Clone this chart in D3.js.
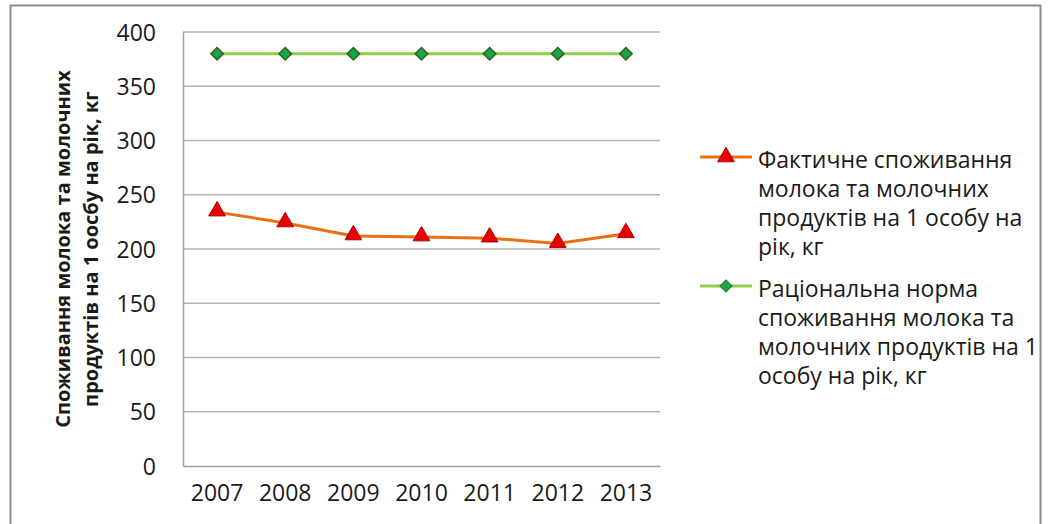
<!DOCTYPE html>
<html>
<head>
<meta charset="utf-8">
<script src="https://cdn.jsdelivr.net/npm/d3@7"></script>
<style>
  body { margin: 0; background: #fff; }
  svg text { font-family: "Open Sans", sans-serif; fill: #1a1a1a; }
</style>
</head>
<body>
<svg id="chart" width="1051" height="524"></svg>
<script>
// data
const years = ['2007', '2008', '2009', '2010', '2011', '2012', '2013']
const actual = [234, 224, 212, 211, 210, 205, 214]
const norm = [380, 380, 380, 380, 380, 380, 380]
const yTicks = [0, 50, 100, 150, 200, 250, 300, 350, 400]
const legendActual = ['Фактичне споживання', 'молока та молочних', 'продуктів на 1 особу на', 'рік, кг']
const legendNorm = ['Раціональна норма', 'споживання молока та', 'молочних продуктів на 1', 'особу на рік, кг']
const yTitle = ['Споживання молока та молочних', 'продуктів на 1 оосбу на рік, кг']

const svg = d3.select('#chart')

// outer frame
svg.append('rect')
  .attr('x', 10.5).attr('y', 5.5)
  .attr('width', 1030).attr('height', 530)
  .attr('fill', 'none').attr('stroke', '#8c8c8c').attr('stroke-width', 2)

const plotL = 183, plotR = 660, plotT = 32, plotB = 466

const x = d3.scaleBand().domain(years).range([plotL, plotR])
const y = d3.scaleLinear().domain([0, 400]).range([plotB, plotT])
const cx = d => x(d) + x.bandwidth() / 2

// gridlines
svg.append('g')
  .selectAll('line')
  .data(yTicks.filter(t => t > 0))
  .join('line')
  .attr('x1', plotL).attr('x2', plotR)
  .attr('y1', d => y(d)).attr('y2', d => y(d))
  .attr('stroke', '#b4b4b4').attr('stroke-width', 1.5)

// axes
const yAxis = svg.append('g')
  .attr('transform', `translate(${plotL},0)`)
  .call(d3.axisLeft(y).tickValues(yTicks).tickSize(0).tickPadding(27))
yAxis.select('.domain').attr('stroke', '#a0a0a0').attr('stroke-width', 1.5)
yAxis.selectAll('text').style('font-size', '23px').attr('dy', '0.35em')

const xAxis = svg.append('g')
  .attr('transform', `translate(0,${plotB})`)
  .call(d3.axisBottom(x).tickSize(0).tickPadding(19))
xAxis.select('.domain').attr('stroke', '#a0a0a0').attr('stroke-width', 1.5)
xAxis.selectAll('text').style('font-size', '23px')

// y title
const title = svg.append('text')
  .attr('transform', 'translate(70,249) rotate(-90)')
  .attr('text-anchor', 'middle')
  .style('font-size', '20px')
  .style('font-weight', 'bold')
title.selectAll('tspan')
  .data(yTitle)
  .join('tspan')
  .attr('x', 0)
  .attr('y', (d, i) => i * 28)
  .text(d => d)

const line = d3.line().x((d, i) => cx(years[i])).y(d => y(d))

// norm series
svg.append('path')
  .datum(norm)
  .attr('d', line)
  .attr('fill', 'none').attr('stroke', '#8fce4a').attr('stroke-width', 3)

const diamond = d3.symbol().type(d3.symbolDiamond2).size(100)
const triangle = d3.symbol().type(d3.symbolTriangle).size(120)

svg.append('g')
  .selectAll('path')
  .data(norm)
  .join('path')
  .attr('d', diamond)
  .attr('transform', (d, i) => `translate(${cx(years[i])},${y(d)})`)
  .attr('fill', '#10a84a').attr('stroke', '#3c5a1e').attr('stroke-width', 1.5)

// actual series
svg.append('path')
  .datum(actual)
  .attr('d', line)
  .attr('fill', 'none').attr('stroke', '#e8700e').attr('stroke-width', 3)

svg.append('g')
  .selectAll('path')
  .data(actual)
  .join('path')
  .attr('d', triangle)
  .attr('transform', (d, i) => `translate(${cx(years[i])},${y(d) - 1})`)
  .attr('fill', '#e80000').attr('stroke', '#b00000').attr('stroke-width', 1)

// legend
const legend = svg.append('g')
const items = [
  { lines: legendActual, color: '#e8700e', sym: triangle, fill: '#e80000', stroke: '#b00000', y0: 160 },
  { lines: legendNorm, color: '#8fce4a', sym: diamond, fill: '#10a84a', stroke: '#3c5a1e', y0: 289 }
]
items.forEach(it => {
  const g = legend.append('g')
  g.append('line')
    .attr('x1', 700).attr('x2', 752)
    .attr('y1', it.y0 - 3).attr('y2', it.y0 - 3)
    .attr('stroke', it.color).attr('stroke-width', 3)
  g.append('path')
    .attr('d', it.sym)
    .attr('transform', `translate(726,${it.y0 - 3})`)
    .attr('fill', it.fill).attr('stroke', it.stroke).attr('stroke-width', 1)
  g.append('text')
    .style('font-size', '23px')
    .selectAll('tspan')
    .data(it.lines)
    .join('tspan')
    .attr('x', 758)
    .attr('y', (d, i) => it.y0 + 8 + i * 29)
    .text(d => d)
})
</script>
</body>
</html>
